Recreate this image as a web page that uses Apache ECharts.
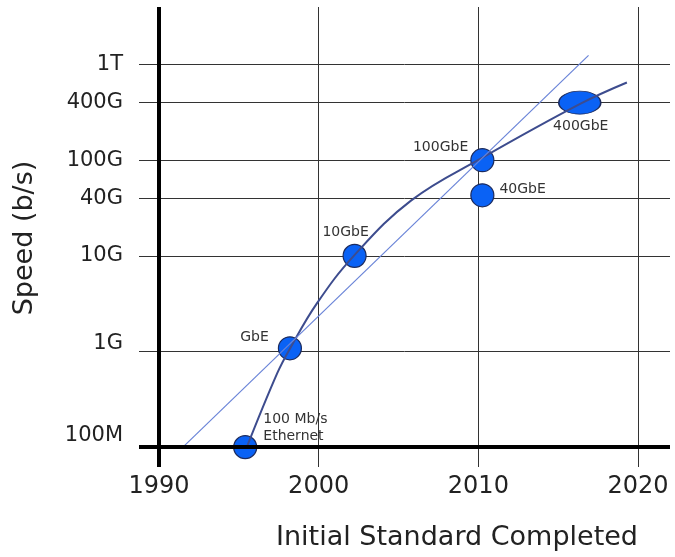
<!DOCTYPE html>
<html><head><meta charset="utf-8">
<script src="https://cdn.jsdelivr.net/npm/echarts@6/dist/echarts.min.js"></script>
<style>html,body{margin:0;padding:0;background:#fff}#c{width:675px;height:557px}</style>
</head><body><div id="c"></div>
<script>
// ---- data ----
const pointNames  = ['100 Mb/s\nEthernet', 'GbE', '10GbE', '100GbE', '40GbE', '400GbE'];
const pointYears  = [1995.4, 1998.2, 2002.25, 2010.25, 2010.25, 2016.35];
const pointSpeeds = [1e8, 1.08e9, 1e10, 1e11, 4.3e10, 4e11];

const curveYears  = [1995.5, 1997.4, 1998.2, 1999.9, 2002.2, 2005.8, 2010.2, 2016.4, 2019.3];
const curveSpeeds = [1.0e8, 5.9e8, 1.07e9, 3.2e9, 1.0e10, 3.8e10, 1.05e11, 3.9e11, 6.5e11];

const trendYears  = [1991.5, 2016.9];
const trendSpeeds = [1.0e8, 1.25e12];

const xTickYears  = [1990, 2000, 2010, 2020];
const xGridYears  = [2000, 2010, 2020];
const yTickValues = [1e8, 1e9, 1e10, 4e10, 1e11, 4e11, 1e12];
const yTickLabels = ['100M', '1G', '10G', '40G', '100G', '400G', '1T'];
const yGridValues = [1e9, 1e10, 4e10, 1e11, 4e11, 1e12];
const axisOriginX = 1990;
const axisOriginY = 1e8;

// ---- styles ----
const FONT = '"DejaVu Sans", "Liberation Sans", sans-serif';
const TEXT = '#222';
const labelLayouts = [
  {position: 'right', distance: 6, offset: [0, -19], align: 'left', lineHeight: 17},
  {position: 'left', distance: 9, offset: [0, -11]},
  {position: 'top', distance: 5, offset: [-9, 1]},
  {position: 'left', distance: 2, offset: [0, -13]},
  {position: 'right', distance: 5, offset: [0, -6]},
  {position: 'bottom', distance: 5, offset: [1, 0]}
];
const symbolSizes = [23, 23, 23, 23, 23, [42, 23]];

const pointData = pointNames.map((n, i) => ({
  name: n,
  value: [pointYears[i], pointSpeeds[i]],
  symbolSize: symbolSizes[i],
  label: Object.assign({show: true, formatter: '{b}', fontSize: 14, fontFamily: FONT, color: '#333'}, labelLayouts[i])
}));

function yLabel(v) {
  let best = 0, bd = Infinity;
  yTickValues.forEach((t, i) => { const d = Math.abs(Math.log10(t) - Math.log10(v)); if (d < bd) { bd = d; best = i; } });
  const txt = yTickLabels[best];
  if (best === 0) return '{u12|' + txt + '}';
  if (best === 1) return '{u8|' + txt + '}';
  return '{n|' + txt + '}';
}
const richBase = {fontSize: 21, fontFamily: FONT, color: TEXT};

const chart = echarts.init(document.getElementById('c'), null, {renderer: 'canvas'});
chart.setOption({
  animation: false,
  backgroundColor: '#fff',
  grid: {left: 139, right: 5, top: 7, bottom: 90, containLabel: false},
  xAxis: {
    type: 'value', min: 1988.75, max: 2022,
    axisLine: {show: false},
    axisTick: {show: false, customValues: xGridYears},
    splitLine: {show: true, lineStyle: {color: '#333', width: 1}},
    axisLabel: {customValues: xTickYears, formatter: v => String(Math.round(v)), fontSize: 24, fontFamily: FONT, color: TEXT, margin: 8}
  },
  yAxis: {
    type: 'log', logBase: 10, min: 6.2e7, max: 4e12,
    axisLine: {show: false},
    axisTick: {show: false, customValues: yGridValues},
    splitLine: {show: true, lineStyle: {color: '#333', width: 1}},
    axisLabel: {
      customValues: yTickValues, margin: 16, formatter: yLabel,
      rich: {
        n: Object.assign({}, richBase),
        u8: Object.assign({padding: [0, 0, 16, 0]}, richBase),
        u12: Object.assign({padding: [0, 0, 24, 0]}, richBase)
      }
    }
  },
  graphic: [
    {type: 'text', x: 457, y: 538, style: {text: 'Initial Standard Completed', font: '27px ' + FONT, fill: TEXT, align: 'center', verticalAlign: 'middle'}},
    {type: 'text', x: 25, y: 238, rotation: Math.PI / 2, style: {text: 'Speed (b/s)', font: '27px ' + FONT, fill: TEXT, align: 'center', verticalAlign: 'middle'}}
  ],
  series: [
    {
      type: 'line', data: [], z: 1, silent: true,
      markLine: {
        silent: true, symbol: 'none', label: {show: false},
        lineStyle: {color: '#000', width: 4, type: 'solid'},
        data: [{xAxis: axisOriginX}, {yAxis: axisOriginY}]
      }
    },
    {
      type: 'scatter', z: 2, symbol: 'circle',
      itemStyle: {color: '#0a62f5', borderColor: '#1c2b5e', borderWidth: 1.2, opacity: 1},
      data: pointData
    },
    {
      type: 'line', z: 3, symbol: 'none', smooth: 0.4, clip: false,
      lineStyle: {color: '#3d4c8e', width: 2},
      data: curveYears.map((y, i) => [y, curveSpeeds[i]])
    },
    {
      type: 'line', z: 3, symbol: 'none', clip: false,
      lineStyle: {color: '#6a84d8', width: 1.2},
      data: trendYears.map((y, i) => [y, trendSpeeds[i]])
    }
  ]
});
</script>
</body></html>
